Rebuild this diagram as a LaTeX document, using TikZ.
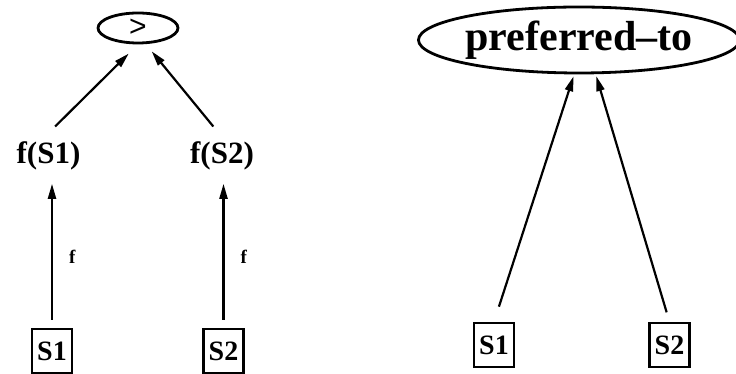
\documentclass[tikz,border=0pt]{standalone}
\usepackage{fontspec}
\setmainfont{Liberation Serif}
\newfontfamily\symfont{Liberation Sans}
\usetikzlibrary{arrows.meta, positioning, shapes.geometric}
\tikzset{
  term/.style={rectangle, draw=black, line width=2.2pt, minimum width=40pt,
               minimum height=44pt, inner sep=0pt,
               font=\fontsize{28}{30}\selectfont\bfseries},
  rel/.style ={ellipse, draw=black, line width=2.8pt, inner sep=0pt},
  val/.style ={inner sep=0pt, font=\fontsize{31}{34}\selectfont\bfseries},
  lbl/.style ={inner sep=0pt, font=\fontsize{19}{20}\selectfont\bfseries},
  arr/.style ={-{Triangle[length=15pt, width=8pt]}, line width=2.2pt}
}
\begin{document}
\begin{tikzpicture}[x=1pt, y=1pt]
    \useasboundingbox (0,0) rectangle (736,374);
    % left: map both states through f, then compare
    \node[rel, minimum width=80pt, minimum height=30pt,
          font=\symfont\fontsize{30}{30}\selectfont] (gt) at (138,346) {>};
    \node[val, anchor=base] (fs1) at (48.5,210) {f(S1)};
    \node[val, anchor=base] (fs2) at (222,210) {f(S2)};
    \node[term] (s1) at (52,23) {S1};
    \node[term] (s2) at (223.5,23) {S2};
    \draw[arr, shorten <=8pt, shorten >=13pt] (s1.north) -- (s1.north |- fs1.south)
        node[lbl, pos=0.45, right=16pt] {f};
    \draw[arr, shorten <=8pt, shorten >=13pt] (s2.north) -- (s2.north |- fs2.south)
        node[lbl, pos=0.45, right=16pt] {f};
    \draw[arr, shorten <=22pt, shorten >=13pt] ([xshift=-9pt]fs1.north) -- (gt.south);
    \draw[arr, shorten <=20pt, shorten >=9pt] ([xshift=4pt]fs2.north) -- ([xshift=8pt]gt.south);
    % right: relation on the states directly
    \node[rel, minimum width=312pt, minimum height=66pt,
          font=\fontsize{42}{44}\selectfont\bfseries] (pref) at (579,334) {preferred--to};
    \node[term] (ps1) at (494,29) {S1};
    \node[term] (ps2) at (669.5,29) {S2};
    \draw[arr, shorten <=16pt, shorten >=2pt] (ps1.north) -- (pref.262);
    \draw[arr, shorten <=10pt, shorten >=2pt] (ps2.north) -- (pref.296);
\end{tikzpicture}
\end{document}
